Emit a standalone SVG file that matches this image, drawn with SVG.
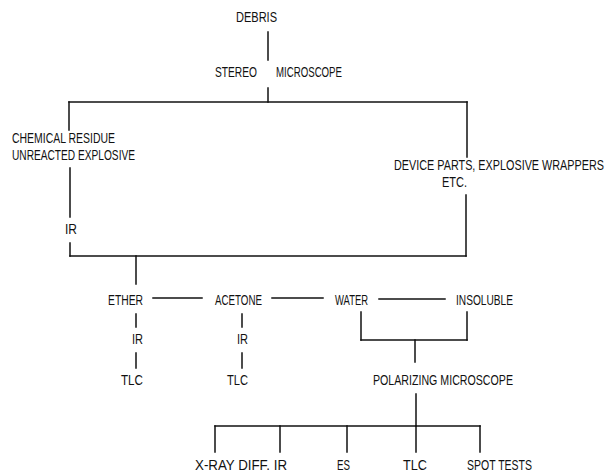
<svg xmlns="http://www.w3.org/2000/svg" width="609" height="473" viewBox="0 0 609 473">
<style>
text{font-family:"Liberation Sans",Arial,sans-serif;font-size:15px;fill:#111;}
.c line{stroke:#111;stroke-width:1.5;stroke-linecap:square;}
</style>
<rect width="609" height="473" fill="#fff"/>
<g class="c" id="connectors">
<line x1="268" y1="32" x2="268" y2="60"/>
<line x1="268" y1="88" x2="268" y2="102"/>
<line x1="69" y1="102" x2="467" y2="102"/>
<line x1="69" y1="102" x2="69" y2="130"/>
<line x1="467" y1="102" x2="467" y2="157"/>
<line x1="70" y1="168" x2="70" y2="217"/>
<line x1="70" y1="243" x2="70" y2="256"/>
<line x1="466" y1="195" x2="466" y2="256"/>
<line x1="70" y1="256" x2="466" y2="256"/>
<line x1="136" y1="256" x2="136" y2="284"/>
<line x1="153" y1="298" x2="202" y2="298"/>
<line x1="272" y1="298" x2="323" y2="298"/>
<line x1="379" y1="299" x2="445" y2="299"/>
<line x1="136" y1="314" x2="136" y2="327"/>
<line x1="136" y1="353" x2="136" y2="368"/>
<line x1="242" y1="314" x2="242" y2="327"/>
<line x1="242" y1="353" x2="242" y2="368"/>
<line x1="361" y1="312" x2="361" y2="340"/>
<line x1="467" y1="312" x2="467" y2="340"/>
<line x1="361" y1="340" x2="467" y2="340"/>
<line x1="415" y1="340" x2="415" y2="362"/>
<line x1="416" y1="394" x2="416" y2="426"/>
<line x1="215" y1="426" x2="480" y2="426"/>
<line x1="215" y1="426" x2="215" y2="452"/>
<line x1="280" y1="426" x2="280" y2="452"/>
<line x1="347" y1="426" x2="347" y2="452"/>
<line x1="416" y1="426" x2="416" y2="452"/>
<line x1="480" y1="426" x2="480" y2="452"/>
</g>
<g id="debris"><text x="236" y="22" textLength="41" lengthAdjust="spacingAndGlyphs">DEBRIS</text></g>
<g id="stereo"><text y="77"><tspan x="215" textLength="42" lengthAdjust="spacingAndGlyphs">STEREO</tspan><tspan x="276" textLength="66" lengthAdjust="spacingAndGlyphs">MICROSCOPE</tspan></text></g>
<g id="chemical">
<text x="12" y="143" textLength="103" lengthAdjust="spacingAndGlyphs">CHEMICAL RESIDUE</text>
<text x="12" y="160" textLength="123" lengthAdjust="spacingAndGlyphs">UNREACTED EXPLOSIVE</text>
</g>
<g id="device">
<text x="394" y="170" textLength="210" lengthAdjust="spacingAndGlyphs">DEVICE PARTS, EXPLOSIVE WRAPPERS</text>
<text x="442" y="187" textLength="25" lengthAdjust="spacingAndGlyphs">ETC.</text>
</g>
<g id="ir1"><text x="65" y="234" textLength="12" lengthAdjust="spacingAndGlyphs">IR</text></g>
<g id="ether"><text x="108" y="305" textLength="35" lengthAdjust="spacingAndGlyphs">ETHER</text></g>
<g id="acetone"><text x="215" y="305" textLength="47" lengthAdjust="spacingAndGlyphs">ACETONE</text></g>
<g id="water"><text x="335" y="305" textLength="33" lengthAdjust="spacingAndGlyphs">WATER</text></g>
<g id="insoluble"><text x="456" y="305" textLength="57" lengthAdjust="spacingAndGlyphs">INSOLUBLE</text></g>
<g id="ir-ether"><text x="132" y="344" textLength="11" lengthAdjust="spacingAndGlyphs">IR</text></g>
<g id="tlc-ether"><text x="121" y="385" textLength="22" lengthAdjust="spacingAndGlyphs">TLC</text></g>
<g id="ir-acetone"><text x="237" y="344" textLength="11" lengthAdjust="spacingAndGlyphs">IR</text></g>
<g id="tlc-acetone"><text x="227" y="385" textLength="21" lengthAdjust="spacingAndGlyphs">TLC</text></g>
<g id="polarizing"><text x="373" y="385" textLength="140" lengthAdjust="spacingAndGlyphs">POLARIZING MICROSCOPE</text></g>
<g id="xray"><text x="195" y="470" textLength="92" lengthAdjust="spacingAndGlyphs">X-RAY DIFF. IR</text></g>
<g id="es"><text x="337" y="470" textLength="13" lengthAdjust="spacingAndGlyphs">ES</text></g>
<g id="tlc"><text x="403" y="470" textLength="24" lengthAdjust="spacingAndGlyphs">TLC</text></g>
<g id="spot"><text x="467" y="470" textLength="65" lengthAdjust="spacingAndGlyphs">SPOT TESTS</text></g>
</svg>
